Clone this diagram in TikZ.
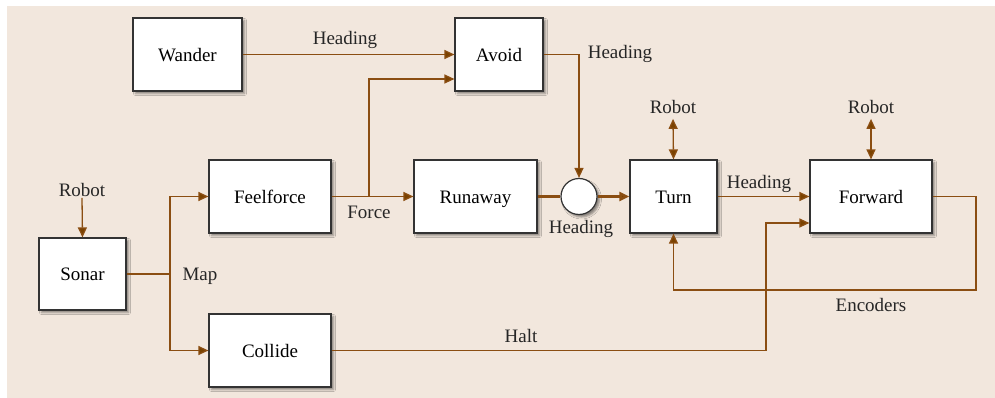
\documentclass[tikz,border=0pt]{standalone}
\usepackage{fontspec}
\setmainfont{Liberation Serif}
\usetikzlibrary{arrows.meta,shadows.blur}
\definecolor{bgc}{HTML}{F2E7DD}
\definecolor{wire}{HTML}{8B4E12}
\definecolor{tipc}{HTML}{7A4200}
\begin{document}
\begin{tikzpicture}[x=1pt,y=-1pt,
  font=\fontsize{19}{22}\selectfont,
  blk/.style={draw=black!80, fill=white, line width=1.2pt, minimum height=73pt, inner sep=0pt,
    text height=15pt, text depth=1.5pt,
    blur shadow={shadow xshift=2.5pt, shadow yshift=-2.5pt, shadow blur radius=2pt, shadow opacity=45}},
  conn/.style={draw=wire, line width=1.3pt},
  arr/.style={conn, -{Triangle[length=10pt,width=9pt,fill=tipc]}},
  darr/.style={conn, {Triangle[length=10pt,width=9pt,fill=tipc]}-{Triangle[length=10pt,width=9pt,fill=tipc]}},
  lbl/.style={inner sep=1pt, text=black!85}
]
\useasboundingbox (0,0) rectangle (995,398);
\fill[bgc] (7,6) rectangle (995,398);

\node[blk, minimum width=109pt] (wander) at (187.5,54.5) {Wander};
\node[blk, minimum width=88pt] (avoid) at (499,54.5) {Avoid};
\node[blk, minimum width=122pt] (feel) at (270,196.5) {Feelforce};
\node[blk, minimum width=123pt] (run) at (475.5,196.5) {Runaway};
\node[draw=black!80, fill=white, line width=1.2pt, circle, minimum size=36pt, inner sep=0pt,
  blur shadow={shadow xshift=2.5pt, shadow yshift=-2.5pt, shadow blur radius=2pt, shadow opacity=45}] (sum) at (579,196.5) {};
\node[blk, minimum width=87pt] (turn) at (673.5,196.5) {Turn};
\node[blk, minimum width=122pt] (fwd) at (871,196.5) {Forward};
\node[blk, minimum width=87pt, minimum height=72pt] (sonar) at (82.5,274) {Sonar};
\node[blk, minimum width=122pt] (collide) at (270,350.5) {Collide};

\node[lbl] (rs) at (82,190) {Robot};
\node[lbl] (rt) at (673,107) {Robot};
\node[lbl] (rf) at (871,107) {Robot};

\node[lbl] at (345,40) {Heading};
\node[lbl] at (620,54) {Heading};
\node[lbl] at (581,229) {Heading};
\node[lbl] at (759,184) {Heading};
\node[lbl] at (369,212) {Force};
\node[lbl] at (200,276) {Map};
\node[lbl] at (521,336) {Halt};
\node[lbl] at (871,305) {Encoders};

\coordinate (j1) at (369,196.5);
\coordinate (j2) at (170,274);
\coordinate (c1) at (976,290);
\coordinate (c2) at (766,223);

\draw[arr] (wander.east) -- (avoid.west);
\draw[arr] (feel.east) -- (run.west);
\draw[arr] (j1) |- ([yshift=-24.5pt]avoid.west);
\draw[arr] (avoid.east) -| (sum.north);
\draw[conn, line width=2.4pt] (run.east) -- (sum.west);
\draw[conn, line width=2.4pt, -{Triangle[length=10pt,width=9pt,fill=tipc]}] (sum.east) -- (turn.west);
\draw[darr] (rt.south) ++(0,4) -- (turn.north);
\draw[darr] (rf.south) ++(0,4) -- (fwd.north);
\draw[arr] (turn.east) -- (fwd.west);
\draw[arr] (fwd.east) -| (c1) -| (turn.south);
\draw[arr] (collide.east) -| (c2) -- (fwd.west |- c2);
\draw[conn] (sonar.east) -- (j2);
\draw[arr] (j2) |- (feel.west);
\draw[arr] (j2) |- (collide.west);
\draw[arr] (rs.south) -- (sonar.north);
\end{tikzpicture}
\end{document}
